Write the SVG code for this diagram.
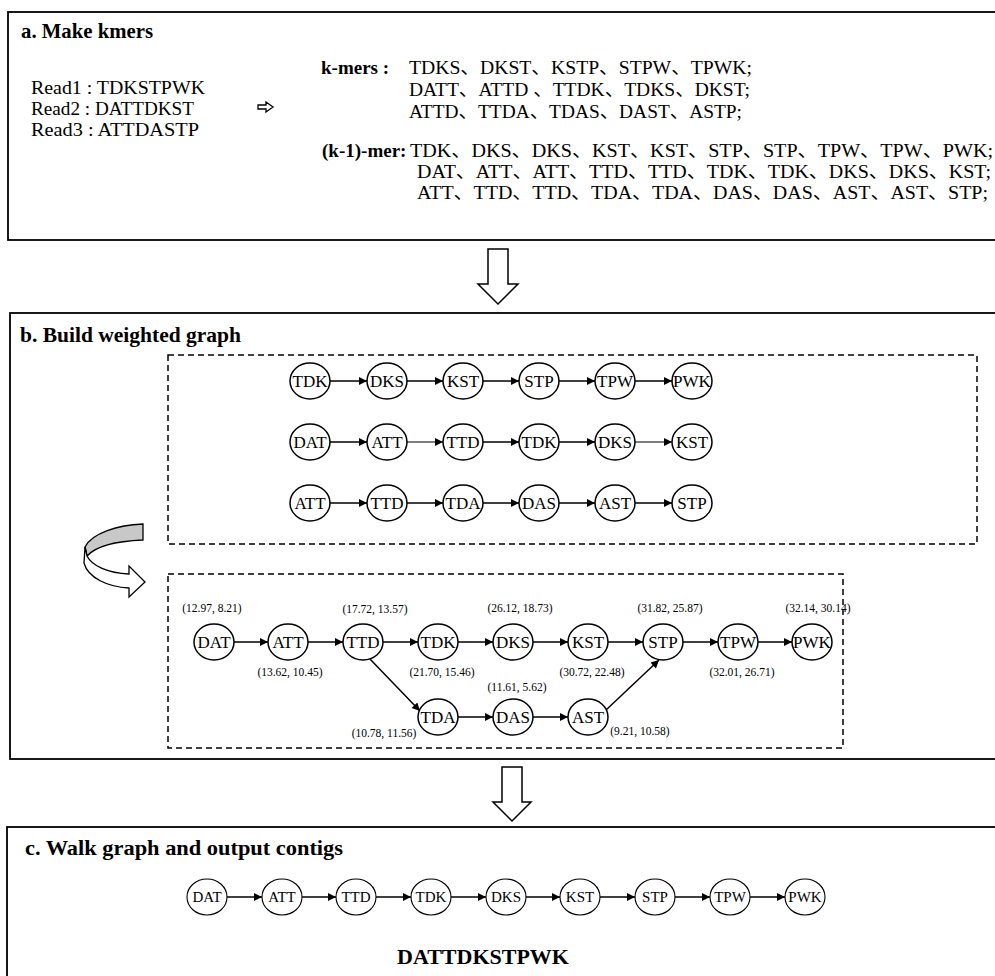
<svg xmlns="http://www.w3.org/2000/svg" width="995" height="976" viewBox="0 0 995 976">
<defs>
<style>
.box{fill:none;stroke:#000;stroke-width:1.8}
.dash{fill:none;stroke:#000;stroke-width:1.5;stroke-dasharray:6 4}
.n ellipse{fill:#fff;stroke:#000;stroke-width:1.5}
.n text{font-family:'Liberation Serif',serif;font-size:17px;text-anchor:middle}
.c ellipse{stroke-width:1.1}
.c text{font-size:15px}
.e line,.e path{stroke:#000;stroke-width:1.5;fill:none;marker-end:url(#ah)}
.e .thin{stroke-width:1}
.t{font-family:'Liberation Serif','Noto Sans CJK SC',serif;font-size:19px;fill:#000}
.b{font-weight:bold}
.ttl{font-family:'Liberation Serif',serif;font-weight:bold;font-size:21.5px}
.lab{font-family:'Liberation Serif',serif;font-size:11.5px;text-anchor:middle}
.big{fill:#fff;stroke:#000;stroke-width:1.5}
</style>
<marker id="ah" viewBox="0 0 10 10" refX="10" refY="5" markerWidth="10" markerHeight="8" markerUnits="userSpaceOnUse" orient="auto"><path d="M0,0 L10,5 L0,10 z" fill="#000"/></marker>
</defs>
<rect width="995" height="976" fill="#fff"/>

<!-- Section a -->
<g id="section-a">
<rect class="box" x="8" y="12" width="1000" height="228"/>
<text class="ttl" x="21" y="38" textLength="132" lengthAdjust="spacingAndGlyphs">a. Make kmers</text>
<text class="t" x="31" y="94" textLength="174" lengthAdjust="spacingAndGlyphs">Read1 : TDKSTPWK</text>
<text class="t" x="31" y="115" textLength="163" lengthAdjust="spacingAndGlyphs">Read2 : DATTDKST</text>
<text class="t" x="31" y="136" textLength="168" lengthAdjust="spacingAndGlyphs">Read3 : ATTDASTP</text>
<polygon class="big" style="stroke-width:1.3" points="258,105 266,105 266,102 273,107 266,112 266,109 258,109"/>
<text class="t b" x="321" y="74">k-mers :</text>
<text class="t" x="409" y="74" textLength="343" lengthAdjust="spacingAndGlyphs">TDKS、DKST、KSTP、STPW、TPWK;</text>
<text class="t" x="409" y="96" textLength="341" lengthAdjust="spacingAndGlyphs">DATT、ATTD 、TTDK、TDKS、DKST;</text>
<text class="t" x="409" y="118" textLength="333" lengthAdjust="spacingAndGlyphs">ATTD、TTDA、TDAS、DAST、ASTP;</text>
<text class="t b" x="322" y="157">(k-1)-mer:</text>
<text class="t" x="410" y="157" textLength="583" lengthAdjust="spacingAndGlyphs">TDK、DKS、DKS、KST、KST、STP、STP、TPW、TPW、PWK;</text>
<text class="t" x="417" y="178" textLength="574" lengthAdjust="spacingAndGlyphs">DAT、ATT、ATT、TTD、TTD、TDK、TDK、DKS、DKS、KST;</text>
<text class="t" x="417" y="199" textLength="571" lengthAdjust="spacingAndGlyphs">ATT、TTD、TTD、TDA、TDA、DAS、DAS、AST、AST、STP;</text>
</g>

<polygon id="arrow-ab" class="big" points="488,249 508,249 508,284 518,284 498,304 478,284 488,284"/>

<!-- Section b -->
<g id="section-b">
<rect class="box" x="10" y="313" width="1000" height="446"/>
<text class="ttl" x="20" y="342">b. Build weighted graph</text>
<rect class="dash" x="168" y="355" width="809" height="189"/>
<rect class="dash" x="168" y="574" width="675" height="174"/>
<path d="M143,524 C118,525 92,533 85,547 L87,556 C96,546 118,541 143,540 Z" fill="#c8c8c8" stroke="#000" stroke-width="1.3"/>
<path d="M85,547 L84,563 C88,578 108,587 129,588 L129,597 L145,582 L129,566 L129,574 C108,573 92,566 87,556 Z" fill="#fff" stroke="#000" stroke-width="1.3"/>
</g>

<!-- connectors -->
<g id="connectors" class="e">
<line x1="330" y1="381" x2="367" y2="381"/>
<line x1="407" y1="381" x2="443" y2="381"/>
<line x1="483" y1="381" x2="519" y2="381"/>
<line x1="559" y1="381" x2="595" y2="381"/>
<line x1="635" y1="381" x2="672" y2="381"/>
<line x1="330" y1="442" x2="367" y2="442"/>
<line class="thin" x1="407" y1="442" x2="443" y2="442"/>
<line x1="483" y1="442" x2="519" y2="442"/>
<line x1="559" y1="442" x2="595" y2="442"/>
<line class="thin" x1="635" y1="442" x2="672" y2="442"/>
<line x1="330" y1="503" x2="367" y2="503"/>
<line x1="407" y1="503" x2="443" y2="503"/>
<line x1="483" y1="503" x2="519" y2="503"/>
<line x1="559" y1="503" x2="595" y2="503"/>
<line x1="635" y1="503" x2="672" y2="503"/>
<line x1="234" y1="642" x2="268" y2="642"/>
<line x1="308" y1="642" x2="343" y2="642"/>
<line x1="383" y1="642" x2="418" y2="642"/>
<line x1="458" y1="642" x2="493" y2="642"/>
<line x1="533" y1="642" x2="568" y2="642"/>
<line x1="608" y1="642" x2="643" y2="642"/>
<line x1="683" y1="642" x2="718" y2="642"/>
<line x1="758" y1="642" x2="792" y2="642"/>
<line x1="369" y1="658" x2="420" y2="711"/>
<line x1="458" y1="717" x2="493" y2="717"/>
<line x1="533" y1="717" x2="568" y2="717"/>
<line x1="606" y1="710" x2="659" y2="660"/>
<line x1="227" y1="897" x2="262" y2="897"/>
<line x1="302" y1="897" x2="336" y2="897"/>
<line x1="376" y1="897" x2="411" y2="897"/>
<line x1="451" y1="897" x2="486" y2="897"/>
<line x1="526" y1="897" x2="560" y2="897"/>
<line x1="600" y1="897" x2="635" y2="897"/>
<line x1="675" y1="897" x2="710" y2="897"/>
<line x1="750" y1="897" x2="785" y2="897"/>
</g>

<g id="g1-TDK" class="n"><ellipse cx="310" cy="381" rx="20" ry="18"/><text x="310" y="387">TDK</text></g>
<g id="g1-DKS" class="n"><ellipse cx="387" cy="381" rx="20" ry="18"/><text x="387" y="387">DKS</text></g>
<g id="g1-KST" class="n"><ellipse cx="463" cy="381" rx="20" ry="18"/><text x="463" y="387">KST</text></g>
<g id="g1-STP" class="n"><ellipse cx="539" cy="381" rx="20" ry="18"/><text x="539" y="387">STP</text></g>
<g id="g1-TPW" class="n"><ellipse cx="615" cy="381" rx="20" ry="18"/><text x="615" y="387">TPW</text></g>
<g id="g1-PWK" class="n"><ellipse cx="692" cy="381" rx="20" ry="18"/><text x="692" y="387">PWK</text></g>

<g id="g2-DAT" class="n"><ellipse cx="310" cy="442" rx="20" ry="18"/><text x="310" y="448">DAT</text></g>
<g id="g2-ATT" class="n"><ellipse cx="387" cy="442" rx="20" ry="18"/><text x="387" y="448">ATT</text></g>
<g id="g2-TTD" class="n"><ellipse cx="463" cy="442" rx="20" ry="18"/><text x="463" y="448">TTD</text></g>
<g id="g2-TDK" class="n"><ellipse cx="539" cy="442" rx="20" ry="18"/><text x="539" y="448">TDK</text></g>
<g id="g2-DKS" class="n"><ellipse cx="615" cy="442" rx="20" ry="18"/><text x="615" y="448">DKS</text></g>
<g id="g2-KST" class="n"><ellipse cx="692" cy="442" rx="20" ry="18"/><text x="692" y="448">KST</text></g>

<g id="g3-ATT" class="n"><ellipse cx="310" cy="503" rx="20" ry="18"/><text x="310" y="509">ATT</text></g>
<g id="g3-TTD" class="n"><ellipse cx="387" cy="503" rx="20" ry="18"/><text x="387" y="509">TTD</text></g>
<g id="g3-TDA" class="n"><ellipse cx="463" cy="503" rx="20" ry="18"/><text x="463" y="509">TDA</text></g>
<g id="g3-DAS" class="n"><ellipse cx="539" cy="503" rx="20" ry="18"/><text x="539" y="509">DAS</text></g>
<g id="g3-AST" class="n"><ellipse cx="615" cy="503" rx="20" ry="18"/><text x="615" y="509">AST</text></g>
<g id="g3-STP" class="n"><ellipse cx="692" cy="503" rx="20" ry="18"/><text x="692" y="509">STP</text></g>

<g id="w-DAT" class="n"><ellipse cx="214" cy="642" rx="20" ry="18"/><text x="214" y="648">DAT</text></g>
<g id="w-ATT" class="n"><ellipse cx="288" cy="642" rx="20" ry="18"/><text x="288" y="648">ATT</text></g>
<g id="w-TTD" class="n"><ellipse cx="363" cy="642" rx="20" ry="18"/><text x="363" y="648">TTD</text></g>
<g id="w-TDK" class="n"><ellipse cx="438" cy="642" rx="20" ry="18"/><text x="438" y="648">TDK</text></g>
<g id="w-DKS" class="n"><ellipse cx="513" cy="642" rx="20" ry="18"/><text x="513" y="648">DKS</text></g>
<g id="w-KST" class="n"><ellipse cx="588" cy="642" rx="20" ry="18"/><text x="588" y="648">KST</text></g>
<g id="w-STP" class="n"><ellipse cx="663" cy="642" rx="20" ry="18"/><text x="663" y="648">STP</text></g>
<g id="w-TPW" class="n"><ellipse cx="738" cy="642" rx="20" ry="18"/><text x="738" y="648">TPW</text></g>
<g id="w-PWK" class="n"><ellipse cx="812" cy="642" rx="20" ry="18"/><text x="812" y="648">PWK</text></g>
<g id="w-TDA" class="n"><ellipse cx="438" cy="717" rx="20" ry="18"/><text x="438" y="723">TDA</text></g>
<g id="w-DAS" class="n"><ellipse cx="513" cy="717" rx="20" ry="18"/><text x="513" y="723">DAS</text></g>
<g id="w-AST" class="n"><ellipse cx="588" cy="717" rx="20" ry="18"/><text x="588" y="723">AST</text></g>

<g id="weights">
<text class="lab" x="212" y="612">(12.97, 8.21)</text>
<text class="lab" x="375" y="613">(17.72, 13.57)</text>
<text class="lab" x="520" y="612">(26.12, 18.73)</text>
<text class="lab" x="670" y="612">(31.82, 25.87)</text>
<text class="lab" x="818" y="612">(32.14, 30.14)</text>
<text class="lab" x="290" y="676">(13.62, 10.45)</text>
<text class="lab" x="442" y="676">(21.70, 15.46)</text>
<text class="lab" x="592" y="676">(30.72, 22.48)</text>
<text class="lab" x="742" y="676">(32.01, 26.71)</text>
<text class="lab" x="517" y="691">(11.61, 5.62)</text>
<text class="lab" x="384" y="737">(10.78, 11.56)</text>
<text class="lab" x="640" y="735">(9.21, 10.58)</text>
</g>

<polygon id="arrow-bc" class="big" points="502,767 522,767 522,802 531,802 512,821 493,802 502,802"/>

<g id="section-c">
<rect class="box" x="7" y="827" width="1000" height="200"/>
<text class="ttl" x="25" y="855" textLength="318" lengthAdjust="spacingAndGlyphs">c. Walk graph and output contigs</text>
<text class="ttl" x="483" y="964" text-anchor="middle" style="font-size:22px">DATTDKSTPWK</text>
</g>
<g id="c-DAT" class="n c"><ellipse cx="207" cy="897" rx="20" ry="18"/><text x="207" y="902">DAT</text></g>
<g id="c-ATT" class="n c"><ellipse cx="282" cy="897" rx="20" ry="18"/><text x="282" y="902">ATT</text></g>
<g id="c-TTD" class="n c"><ellipse cx="356" cy="897" rx="20" ry="18"/><text x="356" y="902">TTD</text></g>
<g id="c-TDK" class="n c"><ellipse cx="431" cy="897" rx="20" ry="18"/><text x="431" y="902">TDK</text></g>
<g id="c-DKS" class="n c"><ellipse cx="506" cy="897" rx="20" ry="18"/><text x="506" y="902">DKS</text></g>
<g id="c-KST" class="n c"><ellipse cx="580" cy="897" rx="20" ry="18"/><text x="580" y="902">KST</text></g>
<g id="c-STP" class="n c"><ellipse cx="655" cy="897" rx="20" ry="18"/><text x="655" y="902">STP</text></g>
<g id="c-TPW" class="n c"><ellipse cx="730" cy="897" rx="20" ry="18"/><text x="730" y="902">TPW</text></g>
<g id="c-PWK" class="n c"><ellipse cx="805" cy="897" rx="20" ry="18"/><text x="805" y="902">PWK</text></g>
</svg>
